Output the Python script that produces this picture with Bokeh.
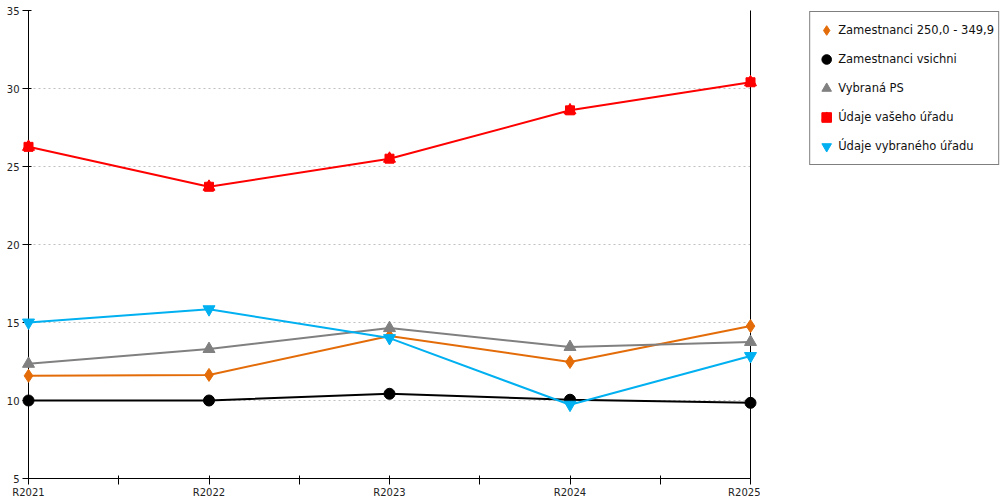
from bokeh.plotting import figure
from bokeh.layouts import row
from bokeh.models import Range1d, FixedTicker, LinearAxis, Legend, LegendItem, ColumnDataSource
from bokeh.embed import file_html
from bokeh.resources import INLINE

years = ["R2021", "R2022", "R2023", "R2024", "R2025"]
zam_250 = [11.58, 11.64, 14.13, 12.47, 14.77]
zam_all = [10.0, 10.0, 10.43, 10.05, 9.85]
vybrana_ps = [12.35, 13.3, 14.64, 13.43, 13.75]
vas_urad = [26.26, 23.7, 25.5, 28.6, 30.4]
vybrany_urad = [15.0, 15.85, 14.0, 9.73, 12.85]

labels = ["Zamestnanci 250,0 - 349,9", "Zamestnanci vsichni", "Vybraná PS",
          "Údaje vašeho úřadu", "Údaje vybraného úřadu"]
colors = ["#E36C09", "#000000", "#808080", "#FF0000", "#00B0F0"]

FONT = "DejaVu Sans"
xs = list(range(len(years)))

H = 500
W1, W2 = 760, 240
ML, MT, MR, MB = 28, 10, 10, 20

p = figure(width=W1, height=H, output_backend="svg", toolbar_location=None,
           x_range=Range1d(0, len(years) - 1), y_range=Range1d(5, 35),
           min_border_left=ML, min_border_top=MT, min_border_bottom=MB, min_border_right=MR)
p.outline_line_color = None
p.background_fill_color = "white"
p.border_fill_color = "white"
p.xgrid.visible = False
p.ygrid.grid_line_color = "#c0c0c0"
p.ygrid.grid_line_dash = "2 3"
p.ygrid.grid_line_width = 1

xa = p.xaxis[0]
xa.ticker = FixedTicker(ticks=xs, minor_ticks=[x + 0.5 for x in xs[:-1]])
xa.major_label_overrides = {i: y for i, y in enumerate(years)}
ya = p.yaxis[0]
ya.ticker = FixedTicker(ticks=[5, 10, 15, 20, 25, 30, 35])
for ax in (xa, ya):
    ax.axis_line_color = "black"
    ax.major_tick_line_color = "black"
    ax.minor_tick_line_color = "black"
    ax.major_tick_out = 6
    ax.major_tick_in = 3
    ax.minor_tick_out = 6
    ax.minor_tick_in = 3
    ax.major_label_text_font = FONT
    ax.major_label_text_font_size = "10px"
    ax.major_label_text_color = "#222222"
xa.major_label_standoff = 2
ya.major_label_standoff = 3
ya.minor_tick_out = 0
ya.minor_tick_in = 0

ra = LinearAxis(ticker=FixedTicker(ticks=[]), major_label_text_font_size="0px",
                axis_line_color="black", major_tick_out=0, major_tick_in=0,
                minor_tick_out=0, minor_tick_in=0)
p.add_layout(ra, "right")

# legend-only figure (its ranges keep the data out of view; only the legend shows)
q = figure(width=W2, height=H, output_backend="svg", toolbar_location=None,
           x_range=Range1d(100, 101), y_range=Range1d(100, 101),
           x_axis_location=None, y_axis_location=None,
           min_border_left=0, min_border_right=0, min_border_top=0, min_border_bottom=0)
q.outline_line_color = None
q.grid.visible = False
q.background_fill_color = "white"
q.border_fill_color = "white"


def add_markers(fig, src, i, col):
    kw = dict(source=src, color=col, level="overlay")
    if i == 0:
        return [fig.scatter("x", "y", marker="diamond", size=13, **kw)]
    if i == 1:
        return [fig.scatter("x", "y", marker="circle", size=11, **kw)]
    if i == 2:
        return [fig.scatter("x", "y", marker="triangle", size=12, **kw)]
    if i == 3:
        return [fig.scatter("x", "y", marker="square", size=9, **kw),
                fig.scatter("x", "y", marker="triangle", size=12, **kw)]
    return [fig.scatter("x", "y", marker="inverted_triangle", size=12, **kw)]


series = [zam_250, zam_all, vybrana_ps, vas_urad, vybrany_urad]
items = []
for i, (vals, lab, col) in enumerate(zip(series, labels, colors)):
    src = ColumnDataSource(dict(x=xs, y=vals))
    p.line("x", "y", source=src, line_color=col, line_width=2, level="overlay")
    add_markers(p, src, i, col)
    items.append(LegendItem(label=lab, renderers=add_markers(q, src, i, col)))

legend = Legend(items=items, location="top_right",
                border_line_color="black", border_line_width=1,
                background_fill_color="white", background_fill_alpha=1,
                label_text_font=FONT, label_text_font_size="11.5px", label_text_color="#111111",
                glyph_width=24, glyph_height=28, label_height=28, label_standoff=0,
                spacing=1, padding=4, margin=1)
q.add_layout(legend, "center")

layout = row(p, q, spacing=0)
open("out.html", "w").write(file_html(layout, INLINE))
